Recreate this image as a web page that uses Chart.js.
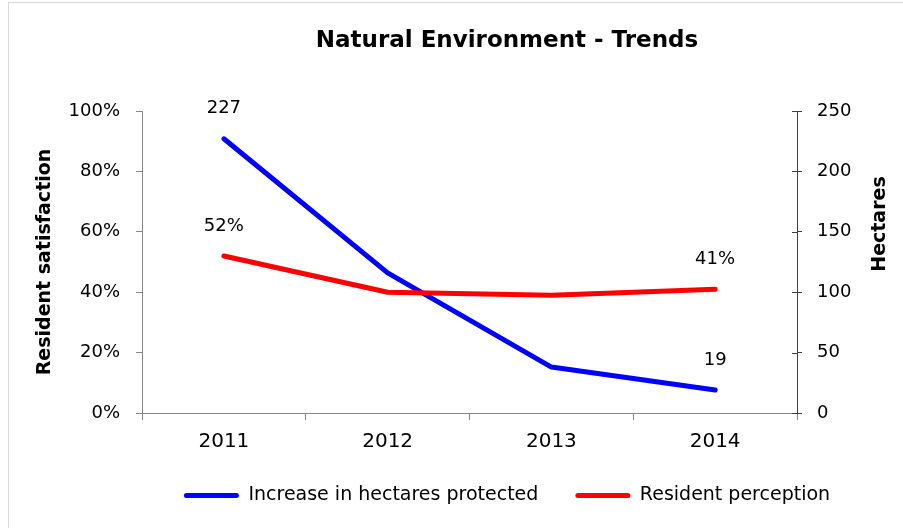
<!DOCTYPE html>
<html>
<head>
<meta charset="utf-8">
<title>Natural Environment - Trends</title>
<script src="https://cdn.jsdelivr.net/npm/chart.js@4/dist/chart.umd.min.js"></script>
<style>
  html, body { margin: 0; padding: 0; background: #fff; overflow: hidden; }
  #wrap { position: relative; width: 1014px; height: 528px; }
</style>
</head>
<body>
<div id="wrap"><canvas id="trends" width="1014" height="528"></canvas></div>
<script>
const years = ["2011", "2012", "2013", "2014"];
const hectaresProtected = [227, 116, 38, 19];
const residentPerception = [0.52, 0.40, 0.39, 0.41];
const satisfactionTicks = [0, 0.2, 0.4, 0.6, 0.8, 1];
const hectareTicks = [0, 50, 100, 150, 200, 250];
// only the first and last point of each line get a value label
const labelledPoints = [0, 3];

const FONT = "'DejaVu Sans', Verdana, sans-serif";
const CANVAS_W = 1014;
Chart.defaults.font.family = FONT;
Chart.defaults.font.size = 18;
Chart.defaults.color = "#000";

// light frame around the chart
const frame = {
  id: "frame",
  beforeDraw(chart) {
    const ctx = chart.ctx;
    ctx.save();
    ctx.strokeStyle = "#d9d9d9";
    ctx.lineWidth = 1;
    ctx.strokeRect(8.5, 2.5, 2000, 2000);
    ctx.restore();
  }
};

// value labels above the end points
const endLabels = {
  id: "endLabels",
  afterDatasetsDraw(chart) {
    const ctx = chart.ctx;
    ctx.save();
    ctx.font = "18px " + FONT;
    ctx.fillStyle = "#000";
    ctx.textAlign = "center";
    ctx.textBaseline = "middle";
    chart.data.datasets.forEach((ds, di) => {
      const meta = chart.getDatasetMeta(di);
      labelledPoints.forEach(i => {
        const pt = meta.data[i];
        const v = ds.data[i];
        const text = ds.yAxisID === "pct" ? Math.round(v * 100) + "%" : String(v);
        ctx.fillText(text, pt.x, pt.y - 30);
      });
    });
    ctx.restore();
  }
};

// right axis: inner half of the cross ticks, and its title reading bottom to top
const rightAxisExtras = {
  id: "rightAxisExtras",
  afterDraw(chart) {
    const s = chart.scales.ha;
    const ctx = chart.ctx;
    ctx.save();
    ctx.strokeStyle = "#404040";
    ctx.lineWidth = 1;
    ctx.beginPath();
    s.ticks.forEach(t => {
      const y = Math.round(s.getPixelForValue(t.value)) + 0.5;
      ctx.moveTo(s.left - 5, y);
      ctx.lineTo(s.left, y);
    });
    ctx.stroke();

    ctx.translate(s.left + 83, (s.top + s.bottom) / 2 - 38);
    ctx.rotate(-Math.PI / 2);
    ctx.font = "bold 19px " + FONT;
    ctx.fillStyle = "#000";
    ctx.textAlign = "center";
    ctx.textBaseline = "middle";
    ctx.fillText("Hectares", 0, 0);
    ctx.restore();
  }
};

new Chart(document.getElementById("trends"), {
  type: "line",
  data: {
    labels: years,
    datasets: [
      {
        label: "Increase in hectares protected",
        data: hectaresProtected,
        yAxisID: "ha",
        borderColor: "#0000ff",
        backgroundColor: "#0000ff",
        order: 1
      },
      {
        label: "Resident perception",
        data: residentPerception,
        yAxisID: "pct",
        borderColor: "#ff0000",
        backgroundColor: "#ff0000",
        order: 0
      }
    ]
  },
  options: {
    responsive: false,
    animation: false,
    layout: { padding: { left: 0, right: 0, top: 0, bottom: 13 } },
    elements: {
      line: { borderWidth: 5, tension: 0, borderCapStyle: "round", borderJoinStyle: "round" },
      point: { radius: 0, hoverRadius: 0 }
    },
    plugins: {
      tooltip: { enabled: false },
      title: {
        display: true,
        text: "Natural Environment - Trends",
        font: { size: 23, weight: "bold" },
        color: "#000",
        padding: { top: 27.5, bottom: 55.9 }
      },
      legend: {
        position: "bottom",
        labels: {
          boxWidth: 55,
          boxHeight: 5,
          padding: 37,
          useBorderRadius: true,
          borderRadius: 2.5,
          color: "#000",
          font: { size: 19 },
          sort: (a, b) => a.datasetIndex - b.datasetIndex,
          generateLabels: chart =>
            Chart.defaults.plugins.legend.labels.generateLabels(chart)
              .map(item => Object.assign(item, { lineWidth: 0 }))
        }
      }
    },
    scales: {
      x: {
        type: "category",
        offset: true,
        grid: { offset: true, drawOnChartArea: false, tickLength: 7, color: "#868686" },
        border: { color: "#868686", width: 1 },
        ticks: { padding: 10, font: { size: 20 } },
        afterFit: s => { s.height = 36; }
      },
      pct: {
        position: "left",
        min: 0,
        max: 1,
        afterBuildTicks: s => { s.ticks = satisfactionTicks.map(v => ({ value: v })); },
        grid: { drawOnChartArea: false, tickLength: 6, color: "#868686" },
        border: { color: "#868686", width: 1 },
        ticks: { padding: 16, callback: v => Math.round(v * 100) + "%" },
        title: {
          display: true,
          text: "Resident satisfaction",
          font: { size: 19, weight: "bold" },
          color: "#000",
          padding: { top: 34, bottom: 0 }
        },
        afterFit: s => { s.width = 142; }
      },
      ha: {
        position: "right",
        min: 0,
        max: 250,
        afterBuildTicks: s => { s.ticks = hectareTicks.map(v => ({ value: v })); },
        grid: { drawOnChartArea: false, tickLength: 5, color: "#404040" },
        border: { color: "#404040", width: 1 },
        ticks: { padding: 15 },
        afterFit: s => { s.width = CANVAS_W - 797; }
      }
    }
  },
  plugins: [frame, endLabels, rightAxisExtras]
});
</script>
</body>
</html>
